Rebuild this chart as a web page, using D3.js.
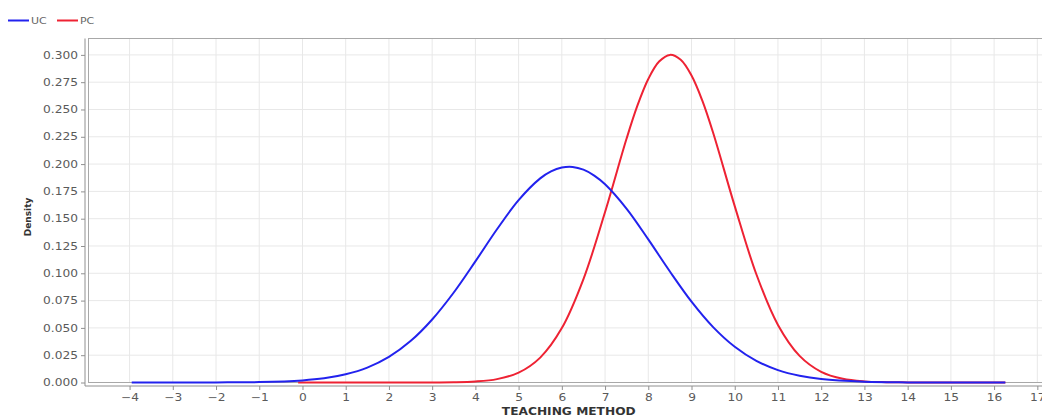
<!DOCTYPE html>
<html><head><meta charset="utf-8">
<script src="https://cdn.jsdelivr.net/npm/d3@7"></script>
<style>body{margin:0;background:#fff}svg{display:block}text{font-family:"DejaVu Sans",sans-serif}</style>
</head><body><svg id="c" width="1042" height="418"></svg>
<script>
const seriesNames = ["UC", "PC"];
const seriesColors = ["#2222ee", "#ee2233"];
const ucX = [-3.95,-3,-2,-1,0,0.5,1,1.5,2,2.5,3,3.5,4,4.5,5,5.5,5.75,6,6.25,6.5,6.75,7,7.5,8,8.5,9,9.5,10,10.5,11,11.5,12,13,14,15,16.26];
const ucY = [0,0,0.0001,0.0004,0.0019,0.0038,0.0075,0.0136,0.0234,0.0379,0.0577,0.0824,0.1109,0.1403,0.1670,0.1869,0.1933,0.1968,0.1974,0.1949,0.1895,0.1815,0.1590,0.1310,0.1016,0.0740,0.0507,0.0327,0.0198,0.0113,0.0061,0.0031,0.0007,0.0001,0,0];
const pcX = [-0.1,1,2,3,3.5,4,4.5,5,5.5,6,6.5,7,7.5,7.75,8,8.25,8.5,8.75,9,9.25,9.5,10,10.5,11,11.5,12,12.5,13,13.5,14,15,16.26];
const pcY = [0,0,0,0.0001,0.0002,0.0009,0.0031,0.0090,0.0228,0.0498,0.0947,0.1561,0.2236,0.2537,0.2779,0.2939,0.3000,0.2955,0.2811,0.2581,0.2287,0.1615,0.0991,0.0527,0.0244,0.0098,0.0034,0.0010,0.0003,0.0001,0,0];
const xTicks = d3.range(-4, 18, 1);
const yTicks = [0,0.025,0.05,0.075,0.1,0.125,0.15,0.175,0.2,0.225,0.25,0.275,0.3];
const xDomain = [-4.95, 17.27];
const yDomain = [0, 0.315];

const svg = d3.select("#c");
const L = 88.5, R = 1049, T = 38.5, B = 382.5;
const x = d3.scaleLinear().domain(xDomain).range([L, R]);
const y = d3.scaleLinear().domain(yDomain).range([B, T]);

// grid
const g = svg.append("g");
g.selectAll(".vg").data(xTicks).enter().append("line")
  .attr("x1", d => x(d)).attr("x2", d => x(d)).attr("y1", T).attr("y2", B)
  .attr("stroke", "#e8e8e8").attr("stroke-width", 1);
g.selectAll(".hg").data(yTicks).enter().append("line")
  .attr("x1", L).attr("x2", R).attr("y1", d => y(d)).attr("y2", d => y(d))
  .attr("stroke", "#e8e8e8").attr("stroke-width", 1);
// plot outline
svg.append("rect").attr("x", L).attr("y", T).attr("width", R - L).attr("height", B - T)
  .attr("fill", "none").attr("stroke", "#a8a8a8").attr("stroke-width", 1);

// axes
const xAxis = d3.axisBottom(x).tickValues(xTicks).tickFormat(d3.format("d")).tickSize(4).tickPadding(4);
const yAxis = d3.axisLeft(y).tickValues(yTicks).tickFormat(d3.format(".3f")).tickSize(4).tickPadding(3);
const gx = svg.append("g").attr("transform", `translate(0,${B + 3.5})`).call(xAxis);
const gy = svg.append("g").attr("transform", `translate(${L - 3.5},0)`).call(yAxis);
gx.select(".domain").attr("d", `M${L - 3.5},0H${R}`);
gy.select(".domain").attr("d", `M0,${T}V${B + 3.5}`);
[gx, gy].forEach(a => {
  a.select(".domain").attr("stroke", "#909090");
  a.selectAll(".tick line").attr("stroke", "#909090");
  a.selectAll(".tick text").attr("fill", "#5a5a5a").style("font-size", "10px");
});

// lines
const line = d3.line().x(d => x(d[0])).y(d => y(d[1])).curve(d3.curveCatmullRom.alpha(0.5));
const data = [d3.zip(ucX, ucY), d3.zip(pcX, pcY)];
// draw PC first so UC sits on top
[1, 0].forEach(i => {
  svg.append("path").datum(data[i]).attr("d", line)
    .attr("fill", "none").attr("stroke", seriesColors[i]).attr("stroke-width", 2)
    .attr("stroke-linejoin", "round");
});

// axis titles
svg.append("text").attr("x", (L + R) / 2).attr("y", 415).attr("text-anchor", "middle")
  .style("font-size", "10px").style("font-weight", "bold").attr("fill", "#333").text("TEACHING METHOD");
svg.append("text").attr("transform", "translate(31,217) rotate(-90)").attr("text-anchor", "middle")
  .style("font-size", "9px").style("font-weight", "bold").attr("fill", "#333").text("Density");

// legend
const lg = svg.append("g");
const legPos = [8, 57];
seriesNames.forEach((n, i) => {
  lg.append("line").attr("x1", legPos[i]).attr("x2", legPos[i] + 21).attr("y1", 20.5).attr("y2", 20.5)
    .attr("stroke", seriesColors[i]).attr("stroke-width", 2);
  lg.append("text").attr("x", legPos[i] + 23).attr("y", 24).style("font-size", "9px").attr("fill", "#666").text(n);
});

// horizontal stretch of text to match reference
svg.selectAll("text").each(function () {
  if (this.textContent === "Density") return;
  const w = this.getComputedTextLength();
  d3.select(this).attr("textLength", w * 1.22).attr("lengthAdjust", "spacingAndGlyphs");
});
</script></body></html>
